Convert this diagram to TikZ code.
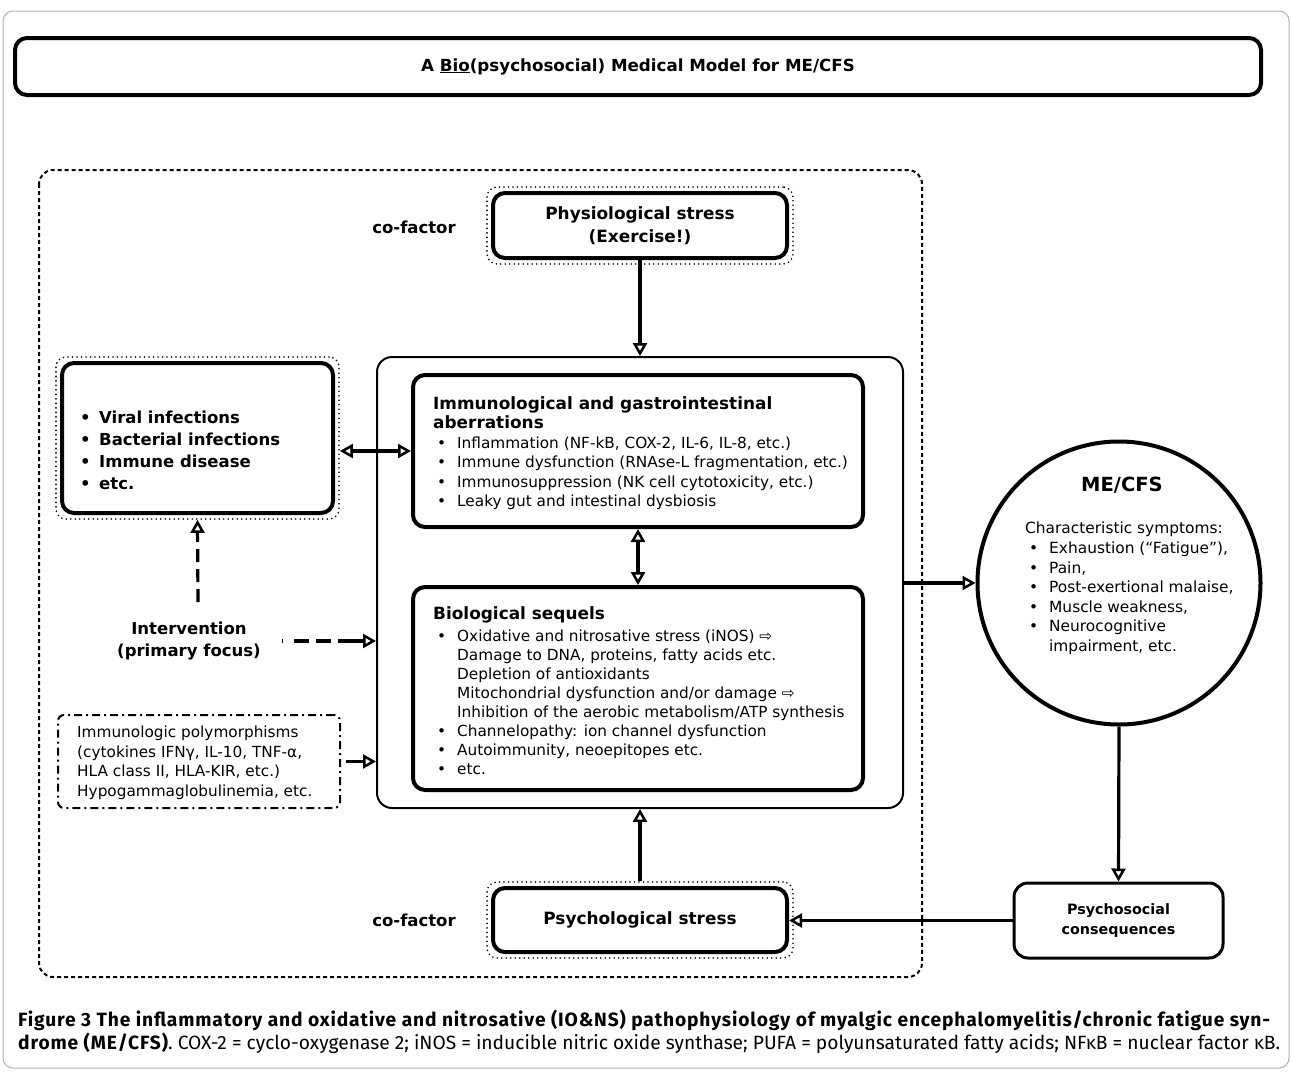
\documentclass[tikz,border=0pt]{standalone}
\usepackage{fontspec}
\setmainfont{DejaVu Sans}
\newfontfamily\capfont{Fira Sans}[BoldFeatures={LetterSpace=4.5}]
\usetikzlibrary{arrows.meta,positioning,fit}

\newcommand\bull[1][24pt]{\makebox[#1][l]{\hspace{4pt}\textbullet}}
\newcommand\indt[1][24pt]{\makebox[#1]{}}
\newcommand\hd{\fontsize{16.9}{20}\selectfont\bfseries}

\begin{document}
\begin{tikzpicture}[x=1pt,y=-1pt,
            >={Triangle[open,length=13pt,width=14pt,line width=2.5pt]},
            box/.style={draw,rounded corners=12pt,line width=4pt},
            dotfr/.style={draw,rounded corners=10pt,line width=1.8pt,dash pattern=on 0pt off 4.5pt,line cap=round,inner sep=4pt},
            txt/.style={inner sep=0pt,align=left,anchor=north west,font=\fontsize{15.3}{19.5}\selectfont},
            lab/.style={align=center,font=\fontsize{16.5}{22}\selectfont\bfseries},
            arr/.style={draw,line width=3.2pt,->},
            dblarr/.style={draw,line width=3.2pt,<->},
            dasharr/.style={arr,dash pattern=on 13pt off 7pt}
          ]
          \useasboundingbox (0,0) rectangle (1291,1079);
          \draw[gray!60,line width=1pt,rounded corners=10pt] (3,11) rectangle (1289,1068);

          %title
          \node[box,minimum width=1246pt,minimum height=57pt,font=\fontsize{16.7}{20}\selectfont\bfseries] (title) at (638,66.5)
            {A \underline{Bio}(psychosocial) Medical Model for ME/CFS};

          %co-factor frame
          \draw[line width=2pt,dash pattern=on 4pt off 3pt,rounded corners=14pt] (39,170) rectangle (922,977);

          %co-factors
          \node[box,minimum width=294pt,minimum height=65pt,align=center,font=\fontsize{16.9}{23}\selectfont\bfseries] (phys) at (640,225.5)
            {Physiological stress\\(Exercise!)};
          \node[dotfr,fit=(phys)] (physfr) {};
          \node[lab] (cof1) at (414,227) {co-factor};
          \node[box,minimum width=294pt,minimum height=64pt,font=\fontsize{16.9}{20}\selectfont\bfseries] (psych) at (640,920)
            {Psychological stress};
          \node[dotfr,fit=(psych)] (psychfr) {};
          \node[lab] (cof2) at (414,920) {co-factor};

          %pathophysiology
          \node[draw,rounded corners=15pt,line width=2pt,minimum width=526pt,minimum height=451pt] (big) at (640,582.5) {};
          \node[box,minimum width=450pt,minimum height=152pt] (immu) at (638,451) {};
          \node[txt] (immut) at (433,396) {{\hd Immunological and gastrointestinal}\\
            {\hd aberrations}\\
            \bull Inflammation (NF-kB, COX-2, IL-6, IL-8, etc.)\\
            \bull Immune dysfunction (RNAse-L fragmentation, etc.)\\
            \bull Immunosuppression (NK cell cytotoxicity, etc.)\\
            \bull Leaky gut and intestinal dysbiosis};
          \node[box,minimum width=450pt,minimum height=203pt] (bio) at (638,688.5) {};
          \node[txt,font=\fontsize{15.3}{19}\selectfont] (biot) at (433,606) {{\hd Biological sequels}\\[3pt]
            \bull Oxidative and nitrosative stress (iNOS) ⇨\\
            \indt Damage to DNA, proteins, fatty acids etc.\\
            \indt Depletion of antioxidants\\
            \indt Mitochondrial dysfunction and/or damage ⇨\\
            \indt Inhibition of the aerobic metabolism/ATP synthesis\\
            \bull Channelopathy: ion channel dysfunction\\
            \bull Autoimmunity, neoepitopes etc.\\
            \bull etc.};

          %triggers
          \node[box,minimum width=271pt,minimum height=150pt] (infect) at (197.5,438) {};
          \node[dotfr,fit=(infect)] (infectfr) {};
          \node[txt,font=\fontsize{16.5}{22}\selectfont\bfseries] (infectt) at (76,411) {\bull[23pt]Viral infections\\
            \bull[23pt]Bacterial infections\\
            \bull[23pt]Immune disease\\
            \bull[23pt]etc.};
          \node[lab] (interv) at (189,641) {Intervention\\(primary focus)};
          \coordinate (intervtop) at (198,602);
          \node[draw,line width=2pt,dash pattern=on 8pt off 4pt on 2pt off 4pt,rounded corners=6pt,
                minimum width=282pt,minimum height=93pt] (poly) at (199,761.5) {};
          \node[txt] (polyt) at (77,726) {Immunologic polymorphisms\\
            (cytokines IFNγ, IL-10, TNF-α,\\
            HLA class II, HLA-KIR, etc.)\\
            Hypogammaglobulinemia, etc.};

          %outcome
          \node[draw,circle,line width=4pt,minimum size=283pt] (mecfs) at (1119,583) {};
          \node[font=\fontsize{19.5}{22}\selectfont\bfseries] (mecfst) at (1122,485) {ME/CFS};
          \node[txt,font=\fontsize{15.4}{19.6}\selectfont] (mecfsl) at (1025,522) {Characteristic symptoms:\\
            \bull Exhaustion (“Fatigue”),\\
            \bull Pain,\\
            \bull Post-exertional malaise,\\
            \bull Muscle weakness,\\
            \bull Neurocognitive\\
            \indt impairment, etc.};
          \node[draw,rounded corners=14pt,line width=3pt,minimum width=209pt,minimum height=75pt,
                align=center,font=\fontsize{14.3}{20}\selectfont\bfseries] (psysoc) at (1118.5,920.5)
            {Psychosocial\\consequences};

          %caption
          \node[inner sep=0pt,anchor=north west,align=left,font=\capfont\fontsize{19.2}{23}\selectfont] (cap) at (18,1010)
            {\textbf{Figure 3 The inflammatory and oxidative and nitrosative (IO\&NS) pathophysiology of myalgic encephalomyelitis/chronic fatigue syn-}\\
             \textbf{drome (ME/CFS)}. COX-2 = cyclo-oxygenase 2; iNOS = inducible nitric oxide synthase; PUFA = polyunsaturated fatty acids; NFκB = nuclear factor κB.};

          %arrows
          \path
          (phys.south) edge[arr] (phys.south |- big.north)
          (immu.south) edge[dblarr] (bio.north)
          (infectfr.east |- immu.west) edge[dblarr] (immu.west)
          (intervtop) edge[dasharr] (infectfr.south)
          ([xshift=18pt]interv.east) edge[dasharr,dash pattern=on 1pt off 11pt on 15pt off 7pt on 15pt off 7pt on 40pt off 0pt] (interv.east -| big.west)
          (poly.east) edge[arr,shorten <=5pt] (poly.east -| big.west)
          (big.east |- mecfs.west) edge[arr] (mecfs.west)
          (mecfs.south) edge[arr] (psysoc.north)
          (psysoc.west) edge[arr] (psysoc.west -| psych.east)
          (psychfr.north) edge[arr] (psychfr.north |- big.south)
          ;
\end{tikzpicture}
\end{document}
